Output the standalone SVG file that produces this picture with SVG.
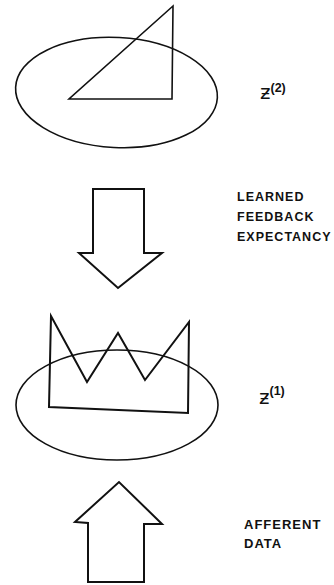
<svg xmlns="http://www.w3.org/2000/svg" width="334" height="585" viewBox="0 0 334 585">
<style>
.ln{fill:none;stroke:#111;stroke-width:1.6;stroke-linejoin:miter}
.hv{fill:#fff;stroke:#111;stroke-width:2}
.lbl{font-family:"Liberation Sans",Arial,sans-serif;font-weight:bold;font-size:12.5px;letter-spacing:1px;fill:#111}
.sym{font-family:"DejaVu Sans","Liberation Sans",sans-serif;font-size:20px;fill:#111}
.sup{font-family:"Liberation Sans",Arial,sans-serif;font-weight:bold;font-size:12.5px;fill:#111}
</style>
<rect width="334" height="585" fill="#fff"/>
<g id="level2">
<ellipse class="ln" cx="116.5" cy="92.5" rx="101" ry="55" transform="rotate(3 116.5 92.5)"/>
<path class="ln" d="M173,6 L69,99 L172,99 Z"/>
<text class="sym" x="260" y="99">ƶ<tspan class="sup" dx="0" dy="-7">(2)</tspan></text>
</g>
<g id="level1">
<ellipse class="ln" cx="117" cy="405" rx="101" ry="55"/>
<path class="hv" style="fill:none" d="M49,407 L51,316 L87,382 L118,333 L145,380 L189,322 L188,413 Z"/>
<text class="sym" x="259" y="404">ƶ<tspan class="sup" dx="0" dy="-9">(1)</tspan></text>
</g>
<g id="connectors">
<path class="hv" d="M93,189 L144,189 L144,253 L162,253 L118,288 L79,253 L93,253 Z"/>
<path class="hv" d="M88,582 L88,523 L75,522 L119,482 L162,524 L144,524 L144,582 Z"/>
</g>
<g id="labels">
<text class="lbl" x="237" y="201">LEARNED</text>
<text class="lbl" x="237" y="221">FEEDBACK</text>
<text class="lbl" x="237" y="241">EXPECTANCY</text>
<text class="lbl" x="244" y="529" style="font-size:13px">AFFERENT</text>
<text class="lbl" x="244" y="548" style="font-size:13px">DATA</text>
</g>
</svg>
